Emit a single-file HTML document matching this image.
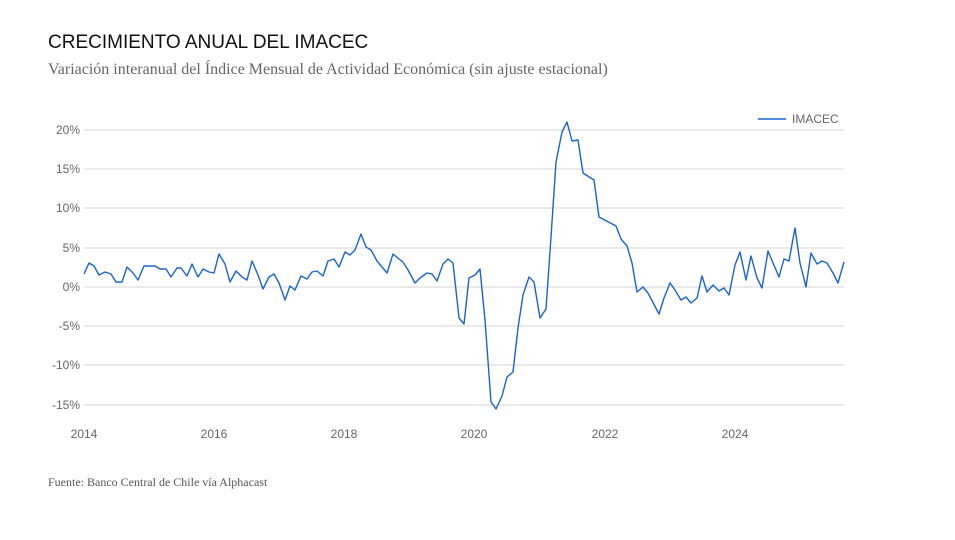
<!DOCTYPE html>
<html><head><meta charset="utf-8"><style>
body{margin:0;background:#fff;width:955px;height:535px;overflow:hidden}
</style></head><body>
<svg width="955" height="535" xmlns="http://www.w3.org/2000/svg">
<text x="48" y="48" font-family="Liberation Sans, sans-serif" font-size="19" fill="#111">CRECIMIENTO ANUAL DEL IMACEC</text>
<text x="48" y="74" font-family="Liberation Serif, serif" font-size="16" fill="#666">Variación interanual del Índice Mensual de Actividad Económica (sin ajuste estacional)</text>
<g stroke="#d4d4d4" stroke-width="1">
<line x1="84" x2="844" y1="130" y2="130"/><line x1="84" x2="844" y1="169" y2="169"/><line x1="84" x2="844" y1="208" y2="208"/><line x1="84" x2="844" y1="248" y2="248"/><line x1="84" x2="844" y1="287" y2="287"/><line x1="84" x2="844" y1="326" y2="326"/><line x1="84" x2="844" y1="365" y2="365"/><line x1="84" x2="844" y1="405" y2="405"/>
</g>
<g font-family="Liberation Sans, sans-serif" font-size="12" fill="#666" text-anchor="end">
<text x="80" y="134">20%</text><text x="80" y="173">15%</text><text x="80" y="212">10%</text><text x="80" y="252">5%</text><text x="80" y="291">0%</text><text x="80" y="330">-5%</text><text x="80" y="369">-10%</text><text x="80" y="409">-15%</text>
</g>
<g font-family="Liberation Sans, sans-serif" font-size="12" fill="#666" text-anchor="middle">
<text x="84" y="438">2014</text><text x="214" y="438">2016</text><text x="344" y="438">2018</text><text x="474" y="438">2020</text><text x="605" y="438">2022</text><text x="735" y="438">2024</text>
</g>
<line x1="758" x2="786" y1="119" y2="119" stroke="#1a62d6" stroke-width="1.5"/>
<text x="792" y="123" font-family="Liberation Sans, sans-serif" font-size="12" fill="#666">IMACEC</text>
<polyline fill="none" stroke="#1a62d6" stroke-width="1.4" stroke-linejoin="round" points="84,274 89,263 94,266 99,275 105,272 111,274 116,282 122,282 127,267 133,273 138,280 144,266 155,266 160,269 166,269 171,277 177,268 181,268 187,276 192,264 198,277 203,269 209,272 214,273 219,254 225,264 230,282 236,271 242,277 247,280 252,261 258,275 263,289 269,277 274,274 279,283 285,300 290,286 295,290 301,276 307,279 312,272 317,271 323,276 328,261 334,259 339,267 345,252 350,255 355,250 361,234 366,247 371,250 377,261 387,273 393,254 399,259 403,262 408,270 415,283 420,278 427,273 432,274 437,281 443,264 448,259 453,263 459,318 464,324 469,278 475,275 480,269 485,320 491,402 496,409 502,396 507,377 513,372 518,328 523,295 529,277 534,282 540,318 546,309 551,237 556,162 562,132 567,122 572,141 578,140 583,173 594,180 599,217 616,226 621,239 627,246 632,263 637,292 643,287 648,293 659,314 664,298 670,283 675,290 681,300 686,297 691,303 697,298 702,276 707,292 713,285 719,291 724,288 729,295 735,265 740,252 746,280 751,256 757,278 762,288 768,251 773,263 779,277 784,259 789,261 795,228 800,263 806,287 811,253 817,264 822,261 827,263 833,273 838,283 844,262"/>
<text x="48" y="486" font-family="Liberation Serif, serif" font-size="12" fill="#555">Fuente: Banco Central de Chile vía Alphacast</text>
</svg>
</body></html>
